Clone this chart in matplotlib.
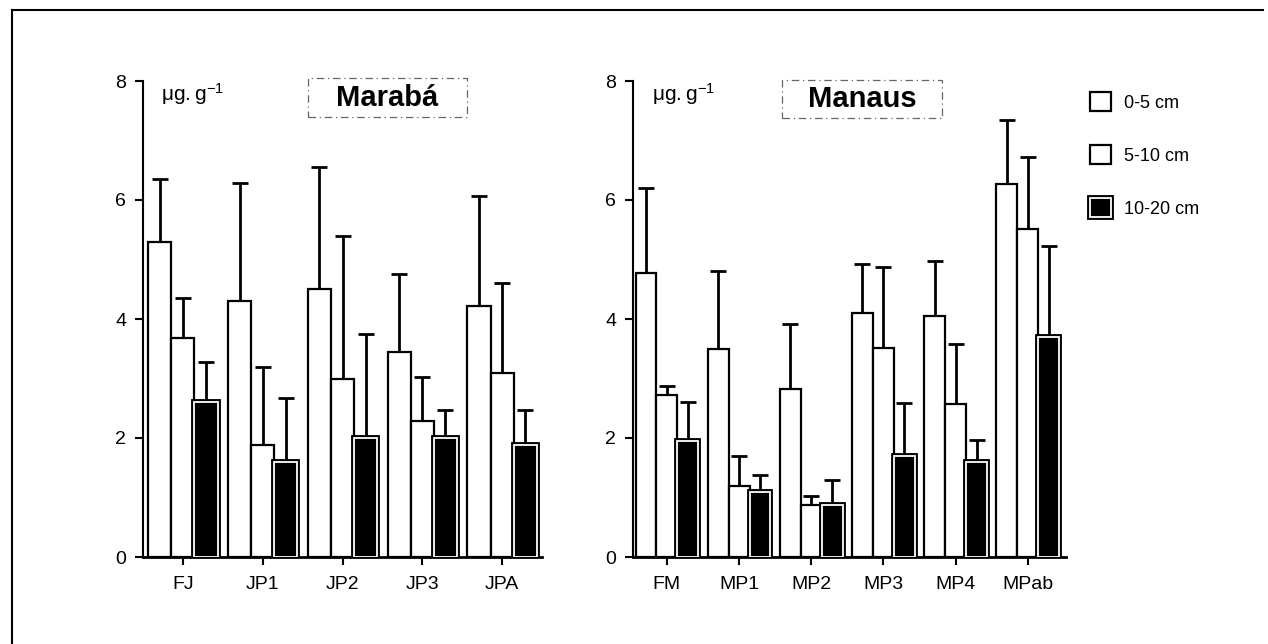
import matplotlib
matplotlib.use('Agg')
import matplotlib.pyplot as plt
import numpy as np
from matplotlib.patches import Patch, Rectangle
from matplotlib.lines import Line2D
from matplotlib.legend_handler import HandlerTuple

plt.rcParams['font.family'] = ['Liberation Sans', 'DejaVu Sans']

# Marabá sites
maraba_sites = ['FJ', 'JP1', 'JP2', 'JP3', 'JPA']
maraba_0_5 = [5.3, 4.3, 4.5, 3.45, 4.22]
maraba_0_5_err = [1.05, 1.98, 2.05, 1.3, 1.85]
maraba_5_10 = [3.68, 1.88, 3.0, 2.28, 3.1]
maraba_5_10_err = [0.67, 1.32, 2.4, 0.75, 1.5]
maraba_10_20 = [2.6, 1.6, 2.0, 2.0, 1.88]
maraba_10_20_err = [0.68, 1.07, 1.75, 0.47, 0.59]

# Manaus sites
manaus_sites = ['FM', 'MP1', 'MP2', 'MP3', 'MP4', 'MPab']
manaus_0_5 = [4.78, 3.5, 2.82, 4.1, 4.05, 6.27]
manaus_0_5_err = [1.42, 1.3, 1.1, 0.82, 0.93, 1.08]
manaus_5_10 = [2.72, 1.2, 0.88, 3.52, 2.57, 5.52]
manaus_5_10_err = [0.15, 0.5, 0.14, 1.35, 1.01, 1.21]
manaus_10_20 = [1.95, 1.1, 0.88, 1.7, 1.6, 3.7]
manaus_10_20_err = [0.65, 0.27, 0.42, 0.88, 0.37, 1.52]

depths = ['0-5 cm', '5-10 cm', '10-20 cm']

W, H = 1268, 644
fig = plt.figure(figsize=(W / 100, H / 100), dpi=100)

bw = 0.29
lw = 1.6


def panel(rect, sites, series, errs, xlim, title, box, unit_x):
    ax = fig.add_axes(rect)
    x = np.arange(len(sites))
    offs = [-bw, 0, bw]
    for i, (vals, err) in enumerate(zip(series, errs)):
        pos = x + offs[i]
        if i < 2:
            ax.bar(pos, vals, bw, facecolor='white', edgecolor='black', linewidth=lw, zorder=2)
        else:
            ax.bar(pos, vals, bw, facecolor='black', edgecolor='black', linewidth=4.2, zorder=2)
            ax.bar(pos, vals, bw, facecolor='none', edgecolor='white', linewidth=1.3, zorder=3)
        ax.errorbar(pos, vals, yerr=[np.zeros(len(vals)), err], fmt='none', ecolor='black',
                    elinewidth=2, capsize=6, capthick=2, zorder=1)
    ax.set_xlim(*xlim)
    ax.set_ylim(0, 8)
    ax.set_yticks([0, 2, 4, 6, 8])
    ax.set_xticks(x)
    ax.set_xticklabels(sites)
    ax.spines['top'].set_visible(False)
    ax.spines['right'].set_visible(False)
    ax.spines['left'].set_linewidth(1.5)
    ax.spines['bottom'].set_linewidth(2)
    ax.tick_params(axis='both', direction='out', length=6, width=1.5, labelsize=14, pad=6)
    ax.tick_params(axis='x', pad=8)
    ax.text(unit_x, 7.78, r'$\mathregular{\mu g.g^{-1}}$', fontsize=15, va='center', ha='left')
    bx0, bx1, by0, by1 = box
    ax.add_patch(Rectangle((bx0, by0), bx1 - bx0, by1 - by0, transform=ax.transAxes,
                           fill=False, edgecolor='#666666', linestyle=(0, (6, 3, 1, 3)),
                           linewidth=0.9, clip_on=False))
    ax.text((bx0 + bx1) / 2, (by0 + by1) / 2, title, transform=ax.transAxes,
            ha='center', va='center', fontsize=21, fontweight='bold',
            family=['Liberation Sans Narrow', 'Liberation Sans'])
    return ax


ax1 = panel([143 / W, 87 / H, 399 / W, 476 / H], maraba_sites,
            [maraba_0_5, maraba_5_10, maraba_10_20],
            [maraba_0_5_err, maraba_5_10_err, maraba_10_20_err],
            (-0.5, 4.5), 'Marabá', (0.414, 0.812, 0.924, 1.006), -0.27)
ax2 = panel([633 / W, 87 / H, 433 / W, 476 / H], manaus_sites,
            [manaus_0_5, manaus_5_10, manaus_10_20],
            [manaus_0_5_err, manaus_5_10_err, manaus_10_20_err],
            (-0.47, 5.53), 'Manaus', (0.344, 0.714, 0.922, 1.002), -0.2)

# legend
white_h = Patch(facecolor='white', edgecolor='black', linewidth=lw)
black_h = (Patch(facecolor='black', edgecolor='black', linewidth=4.2),
           Patch(facecolor='none', edgecolor='white', linewidth=1.3))
fig.legend([white_h, white_h, black_h], depths, loc='upper left',
           bbox_to_anchor=(1074 / W, (H - 76) / H), frameon=False, fontsize=13,
           handlelength=1.15, handleheight=1.25, labelspacing=1.85, handletextpad=0.7,
           handler_map={tuple: HandlerTuple(ndivide=1)})

# frame lines of the original figure
fig.add_artist(Line2D([12 / W, 12 / W], [0, (H - 10) / H], color='black', linewidth=1.5))
fig.add_artist(Line2D([12 / W, 1 - 5 / W], [(H - 10) / H, (H - 10) / H], color='black', linewidth=1.5))

fig.savefig('out.png', dpi=100)
